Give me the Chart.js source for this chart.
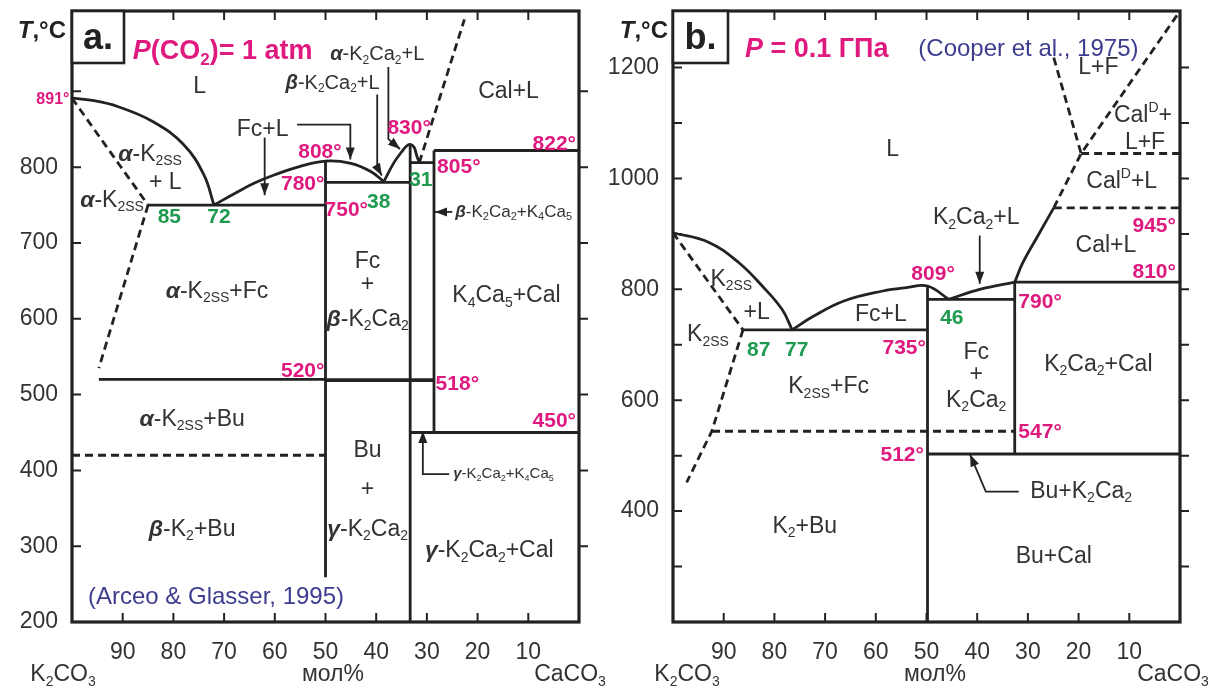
<!DOCTYPE html>
<html>
<head>
<meta charset="utf-8">
<script src="https://cdn.jsdelivr.net/npm/chart.js@4.4.1/dist/chart.umd.min.js"></script>
<style>
  html, body { margin: 0; padding: 0; background: #fff; }
  #wrap { position: relative; width: 1220px; height: 691px; }
  canvas { position: absolute; top: 0; }
  #ca { left: 0; }
  #cb { left: 560px; }
</style>
</head>
<body>
<div id="wrap">
  <canvas id="ca" width="610" height="691"></canvas>
  <canvas id="cb" width="660" height="691"></canvas>
</div>
<script>
const INK = '#222';
const FONT = '"Liberation Sans", Arial, sans-serif';

// x = mol% K2CO3 (100 on the left), y = T, °C
const xLabels = [90, 80, 70, 60, 50, 40, 30, 20, 10];

// ---- panel a: P(CO2) = 1 atm (Arceo & Glasser, 1995)
const aYLabels = [200, 300, 400, 500, 600, 700, 800];
const aYMarks = [300, 400, 500, 600, 700, 800, 900];
const aLiquidusK2 = [[100, 891], [96, 888], [91, 880], [84, 860], [78, 830], [74, 790], [72, 750]];
const aLiquidusFc = [[72, 750], [68, 765], [64, 779], [60, 790], [55, 801], [50, 808], [45, 805], [41, 794], [38.5, 781]];
const aLiquidusK2Ca2 = [[38.5, 781], [36.5, 806], [35, 820], [34, 828], [33.3, 830], [32.5, 826], [32, 815], [31.5, 806]];
const aLiquidusCal = [[31.5, 806], [22.6, 995]];
const aSolvusHigh = [[100, 891], [85, 750]];
const aSolvusLow = [[85, 750], [94.7, 535]];
const aIso750 = [[85, 750], [50, 750]];
const aIso780 = [[50, 780], [33.3, 780]];
const aIso805 = [[33.3, 806], [28.6, 806]];
const aIso822 = [[28.6, 822], [0, 822]];
const aIso520 = [[94.7, 520], [50, 520]];
const aIso518 = [[50, 519], [28.6, 519]];
const aIso450 = [[33.3, 450], [0, 450]];
const aIso420 = [[100, 420], [50, 420]];
const aCol50 = [[50, 808], [50, 259]];
const aCol33 = [[33.3, 830], [33.3, 200]];
const aCol28 = [[28.6, 822], [28.6, 450]];
const aArrowFc1 = [[62, 839], [62, 763]];
const aArrowFc2 = [[55.6, 856], [45.1, 856], [45.1, 810]];
const aArrowBetaL = [[39.8, 896], [39.8, 800], [38.9, 789]];
const aArrowAlphaL = [[37.6, 932], [37.6, 837], [35.3, 824]];
const aArrowK4Ca5 = [[25, 741], [28.4, 741]];
const aArrowGamma = [[25.6, 395], [30.8, 395], [30.8, 452]];
const aNotes = [
  ['891°', 100.5, 889, 'ts', 'right'],
  ['L', 74.8, 906, 'r'],
  ['Cal+L', 13.9, 900, 'r'],
  ['{*α}-K{_2SS}', 84.6, 817, 'r'],
  ['+ L', 81.6, 780, 'r'],
  ['{*α}-K{_2SS}', 92.1, 756, 'r'],
  ['85', 80.8, 734, 'n'],
  ['72', 71, 734, 'n'],
  ['Fc+L', 62.4, 850, 'r'],
  ['808°', 51.1, 820, 't'],
  ['780°', 54.5, 778, 't'],
  ['750°', 45.9, 743, 't'],
  ['38', 39.5, 754, 'n'],
  ['830°', 33.5, 852, 't'],
  ['31', 31.2, 783, 'n'],
  ['805°', 23.7, 800, 't'],
  ['822°', 0.6, 830, 't', 'right'],
  ['{*α}-K{_2}Ca{_2}+L', 39.8, 948, 'm'],
  ['{*β}-K{_2}Ca{_2}+L', 48.6, 911, 'm'],
  ['{*β}-K{_2}Ca{_2}+K{_4}Ca{_5}', 24.4, 741, 's', 'left'],
  ['{*α}-K{_2SS}+Fc', 71.4, 636, 'r'],
  ['Fc', 41.7, 676, 'r'],
  ['+', 41.7, 645, 'r'],
  ['{*β}-K{_2}Ca{_2}', 41.7, 599, 'r'],
  ['K{_4}Ca{_5}+Cal', 14.3, 630, 'r'],
  ['520°', 54.5, 531, 't'],
  ['518°', 24, 514, 't'],
  ['450°', 0.6, 465, 't', 'right'],
  ['{*α}-K{_2SS}+Bu', 76.3, 467, 'r'],
  ['Bu', 41.7, 426, 'r'],
  ['+', 41.7, 375, 'r'],
  ['{*γ}-K{_2}Ca{_2}', 41.7, 322, 'r'],
  ['{*β}-K{_2}+Bu', 76.3, 322, 'r'],
  ['{*γ}-K{_2}Ca{_2}+Cal', 17.7, 294, 'r'],
  ['{*γ}-K{_2}Ca{_2}+K{_4}Ca{_5}', 24.8, 395, 'xs', 'left'],
  ['(Arceo & Glasser, 1995)', 71.6, 233, 'cite'],
  ['{*P}(CO{_2})= 1 atm', 88, 952, 'title', 'left']
];

// ---- panel b: P = 0.1 GPa (Cooper et al., 1975)
const bYLabels = [400, 600, 800, 1000, 1200];
const bYMarks = [300, 400, 500, 600, 700, 800, 900, 1000, 1100, 1200];
const bLiquidusK2 = [[100, 902], [93, 885], [87, 848], [82.4, 806], [78.5, 764], [76.5, 727]];
const bLiquidusFc = [[76.5, 727], [72.4, 751], [66.3, 779], [58.6, 797], [54, 803], [49.8, 806], [45.6, 782]];
const bLiquidusK2Ca2 = [[45.6, 782], [39.5, 800], [32.6, 813]];
const bLiquidusCal = [[32.6, 813], [31, 848], [28, 897], [24.9, 947]];
const bLiquidusCalD = [[24.9, 947], [19.5, 1045], [0, 1302]];
const bFluidLine = [[24.9, 1218], [19.5, 1045]];
const bSolvusHigh = [[100, 902], [86.2, 727]];
const bSolvusLow = [[86.2, 727], [92.3, 545], [97.3, 452]];
const bIso735 = [[86.2, 727], [49.8, 727]];
const bIso790 = [[49.8, 782], [32.6, 782]];
const bIso810 = [[32.6, 813], [0, 813]];
const bIso945 = [[24.9, 947], [0, 947]];
const bIso1045 = [[19.5, 1045], [0, 1045]];
const bIso547 = [[92.3, 544], [32.6, 544]];
const bIso512 = [[49.8, 503], [0, 503]];
const bCol50 = [[49.8, 806], [49.8, 200]];
const bCol33 = [[32.6, 813], [32.6, 503]];
const bArrowK2Ca2L = [[39.5, 897], [39.5, 810]];
const bArrowBu = [[31.8, 435], [38.3, 435], [41.4, 502]];
const bNotes = [
  ['L', 56.7, 1052, 'r'],
  ['L+F', 16.1, 1200, 'r'],
  ['Cal{^D}+', 7.3, 1114, 'r'],
  ['L+F', 6.9, 1064, 'r'],
  ['Cal{^D}+L', 11.5, 995, 'r'],
  ['K{_2}Ca{_2}+L', 40.2, 929, 'r'],
  ['945°', 0.8, 914, 't', 'right'],
  ['Cal+L', 14.6, 879, 'r'],
  ['810°', 0.8, 830, 't', 'right'],
  ['K{_2SS}', 88.5, 818, 'r'],
  ['+L', 83.5, 758, 'r'],
  ['K{_2SS}', 93.1, 718, 'r'],
  ['87', 83.1, 691, 'n'],
  ['77', 75.6, 691, 'n'],
  ['809°', 48.7, 827, 't'],
  ['Fc+L', 59, 755, 'r'],
  ['46', 45, 748, 'n'],
  ['735°', 54.4, 694, 't'],
  ['790°', 27.6, 776, 't'],
  ['Fc', 40.2, 685, 'r'],
  ['+', 40.2, 646, 'r'],
  ['K{_2}Ca{_2}', 40.2, 600, 'r'],
  ['K{_2SS}+Fc', 69.3, 624, 'r'],
  ['K{_2}Ca{_2}+Cal', 16.1, 664, 'r'],
  ['547°', 27.6, 542, 't'],
  ['512°', 54.8, 500, 't'],
  ['Bu+K{_2}Ca{_2}', 19.5, 435, 'r'],
  ['K{_2}+Bu', 74, 372, 'r'],
  ['Bu+Cal', 24.9, 318, 'r'],
  ['{*P} = 0.1 ГПа', 85.8, 1233, 'title', 'left'],
  ['(Cooper et al., 1975)', 29.9, 1233, 'cite']
];

const textStyles = {
  r: { size: 23, color: '#333', bold: false },
  m: { size: 20, color: '#333', bold: false },
  s: { size: 17, color: '#333', bold: false },
  xs: { size: 15, color: '#333', bold: false },
  t: { size: 21, color: '#e0197f', bold: true },
  ts: { size: 16, color: '#e0197f', bold: true },
  n: { size: 21, color: '#1d9a4e', bold: true },
  cite: { size: 24, color: '#3d3d8f', bold: false },
  title: { size: 27, color: '#e0197f', bold: true }
};

const xy = pts => pts.map(p => ({ x: p[0], y: p[1] }));
const solid = (pts, w = 2.8, tension = 0) => ({
  data: xy(pts), showLine: true, borderColor: INK, borderWidth: w,
  pointRadius: 0, tension: tension, fill: false
});
const curve = pts => solid(pts, 2.8, 0.4);
const dashed = pts => Object.assign(solid(pts, 2.8), { borderDash: [8, 5] });
const arrow = pts => Object.assign(solid(pts, 1.8), { arrow: true });

// simple markup: {_sub} {^sup} {*bold italic}
function richParts(str) {
  const parts = [];
  const re = /\{([_^*])([^}]*)\}/g;
  let last = 0, m;
  while ((m = re.exec(str))) {
    if (m.index > last) parts.push({ t: str.slice(last, m.index), k: '' });
    parts.push({ t: m[2], k: m[1] });
    last = re.lastIndex;
  }
  if (last < str.length) parts.push({ t: str.slice(last), k: '' });
  return parts;
}

function drawRich(ctx, str, x, y, st, align) {
  const parts = richParts(str);
  const fontFor = k => {
    const s = (k === '_' || k === '^') ? Math.round(st.size * 0.62) : st.size;
    return (k === '*' ? 'italic ' : '') + ((st.bold || k === '*') ? 'bold ' : '') + s + 'px ' + FONT;
  };
  let total = 0;
  parts.forEach(p => { ctx.font = fontFor(p.k); p.w = ctx.measureText(p.t).width; total += p.w; });
  let cx = align === 'left' ? x : align === 'right' ? x - total : x - total / 2;
  ctx.fillStyle = st.color;
  ctx.textBaseline = 'middle';
  ctx.textAlign = 'left';
  parts.forEach(p => {
    ctx.font = fontFor(p.k);
    const dy = p.k === '_' ? st.size * 0.3 : p.k === '^' ? -st.size * 0.32 : 0;
    ctx.fillText(p.t, cx, y + dy);
    cx += p.w;
  });
}

function makeDecor(cfg) {
  return {
    id: 'decor',
    afterDatasetsDraw(chart) {
      const ctx = chart.ctx;
      const sx = chart.scales.x, sy = chart.scales.y;
      // arrow heads
      chart.data.datasets.forEach((ds, i) => {
        if (!ds.arrow) return;
        const pts = chart.getDatasetMeta(i).data;
        const a = pts[pts.length - 2], b = pts[pts.length - 1];
        const ang = Math.atan2(b.y - a.y, b.x - a.x);
        ctx.save();
        ctx.translate(b.x, b.y);
        ctx.rotate(ang);
        ctx.beginPath();
        ctx.moveTo(0, 0);
        ctx.lineTo(-12, -4.5);
        ctx.lineTo(-12, 4.5);
        ctx.closePath();
        ctx.fillStyle = INK;
        ctx.fill();
        ctx.restore();
      });
      ctx.save();
      cfg.notes.forEach(n => {
        drawRich(ctx, n[0], sx.getPixelForValue(n[1]), sy.getPixelForValue(n[2]), textStyles[n[3]], n[4]);
      });
      ctx.restore();
    },
    afterDraw(chart) {
      const ctx = chart.ctx;
      const ca = chart.chartArea;
      const sx = chart.scales.x, sy = chart.scales.y;
      ctx.save();
      ctx.strokeStyle = INK;
      ctx.lineWidth = 2;
      ctx.beginPath();
      xLabels.forEach(v => {
        const px = sx.getPixelForValue(v);
        ctx.moveTo(px, ca.bottom); ctx.lineTo(px, ca.bottom - 9);
        ctx.moveTo(px, ca.top); ctx.lineTo(px, ca.top + 9);
      });
      cfg.yMarks.forEach(v => {
        const py = sy.getPixelForValue(v);
        ctx.moveTo(ca.left, py); ctx.lineTo(ca.left + 9, py);
        ctx.moveTo(ca.right, py); ctx.lineTo(ca.right + 9, py);
      });
      ctx.stroke();
      // frame
      ctx.lineWidth = 3.2;
      ctx.strokeRect(ca.left, ca.top, ca.right - ca.left, ca.bottom - ca.top);
      // panel letter box
      ctx.fillStyle = '#fff';
      ctx.fillRect(ca.left, ca.top, cfg.boxW, 52);
      ctx.lineWidth = 2.6;
      ctx.strokeRect(ca.left, ca.top, cfg.boxW, 52);
      ctx.fillStyle = INK;
      ctx.font = 'bold 36px ' + FONT;
      ctx.textAlign = 'center';
      ctx.textBaseline = 'middle';
      ctx.fillText(cfg.letter, ca.left + cfg.boxW / 2, ca.top + 28);
      // T, °C
      ctx.textAlign = 'right';
      ctx.font = 'bold 24px ' + FONT;
      const tail = ',°C';
      const tw = ctx.measureText(tail).width;
      ctx.fillText(tail, cfg.tRight, ca.top + 20);
      ctx.font = 'italic bold 24px ' + FONT;
      ctx.fillText('T', cfg.tRight - tw, ca.top + 20);
      // composition axis names
      const st = { size: 23, color: '#333', bold: false };
      drawRich(ctx, 'K{_2}CO{_3}', cfg.names[0], 675, st, 'center');
      drawRich(ctx, 'мол%', cfg.names[1], 675, st, 'center');
      drawRich(ctx, 'CaCO{_3}', cfg.names[2], 675, st, 'center');
      ctx.restore();
    }
  };
}

function makePanel(id, cfg) {
  return new Chart(document.getElementById(id), {
    type: 'scatter',
    data: { datasets: cfg.datasets },
    options: {
      responsive: false,
      animation: false,
      devicePixelRatio: 1,
      events: [],
      layout: { padding: { left: 0, right: cfg.padRight, top: 11, bottom: 29 } },
      plugins: { legend: { display: false }, tooltip: { enabled: false } },
      scales: {
        x: {
          type: 'linear', min: 0, max: 100, reverse: true,
          afterBuildTicks: s => { s.ticks = xLabels.map(v => ({ value: v })); },
          afterFit: s => { s.height = 40; s.paddingLeft = 0; s.paddingRight = 0; },
          ticks: { autoSkip: false, maxRotation: 0, padding: 9, color: '#333', font: { family: FONT, size: 23 }, callback: v => String(v) },
          grid: { display: false },
          border: { display: false }
        },
        y: {
          type: 'linear', min: cfg.yMin, max: cfg.yMax,
          afterBuildTicks: s => { s.ticks = cfg.yLabels.map(v => ({ value: v })); },
          afterFit: s => { s.width = cfg.axisW; s.paddingTop = 0; s.paddingBottom = 0; },
          ticks: { padding: 6, color: '#333', font: { family: FONT, size: 23 }, callback: v => String(v) },
          grid: { display: false },
          border: { display: false }
        }
      }
    },
    plugins: [makeDecor(cfg)]
  });
}

makePanel('ca', {
  yMin: 200, yMax: 1006, yLabels: aYLabels, yMarks: aYMarks,
  axisW: 72, padRight: 31, boxW: 52, letter: 'a.', tRight: 66,
  names: [63, 333, 570], notes: aNotes,
  datasets: [
    curve(aLiquidusK2), curve(aLiquidusFc), curve(aLiquidusK2Ca2),
    dashed(aLiquidusCal), dashed(aSolvusHigh), dashed(aSolvusLow),
    solid(aIso750), solid(aIso780), solid(aIso805), solid(aIso822),
    solid(aIso520), solid(aIso518, 3.8), solid(aIso450), dashed(aIso420),
    solid(aCol50), solid(aCol33), solid(aCol28),
    arrow(aArrowFc1), arrow(aArrowFc2), arrow(aArrowBetaL), arrow(aArrowAlphaL),
    arrow(aArrowK4Ca5), arrow(aArrowGamma)
  ]
});

makePanel('cb', {
  yMin: 200, yMax: 1302, yLabels: bYLabels, yMarks: bYMarks,
  axisW: 113, padRight: 40, boxW: 55, letter: 'b.', tRight: 108,
  names: [127, 375, 613], notes: bNotes,
  datasets: [
    curve(bLiquidusK2), curve(bLiquidusFc), curve(bLiquidusK2Ca2), curve(bLiquidusCal),
    dashed(bLiquidusCalD), dashed(bFluidLine), dashed(bSolvusHigh), dashed(bSolvusLow),
    solid(bIso735), solid(bIso790), solid(bIso810), dashed(bIso945), dashed(bIso1045),
    dashed(bIso547), solid(bIso512), solid(bCol50), solid(bCol33),
    arrow(bArrowK2Ca2L), arrow(bArrowBu)
  ]
});
</script>
</body>
</html>
